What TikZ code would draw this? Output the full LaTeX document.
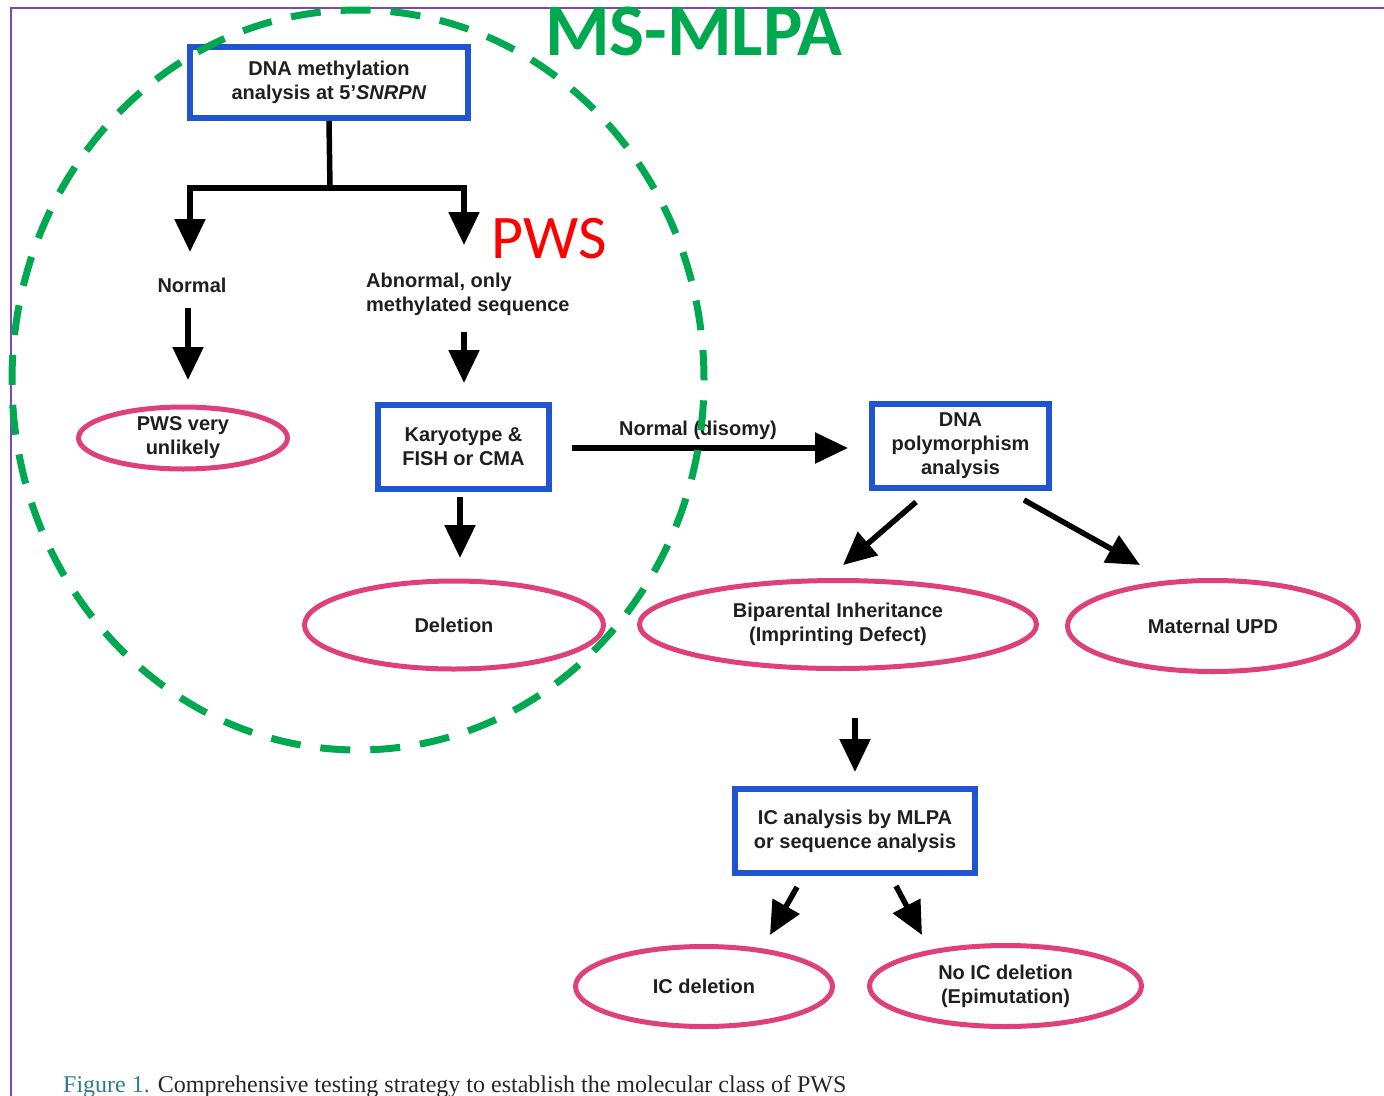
\documentclass[tikz,border=0pt]{standalone}
\usepackage{fontspec}
\setmainfont{Liberation Sans}
\newfontfamily\calibrifont{Carlito}
\newfontfamily\captionserif{Liberation Serif}
\usetikzlibrary{arrows.meta,shapes.geometric}
\definecolor{boxblue}{HTML}{1F55D0}
\definecolor{ovalpink}{HTML}{E0407A}
\definecolor{msgreen}{HTML}{00A94F}
\definecolor{framepurple}{HTML}{7E45B8}
\definecolor{capteal}{HTML}{2C7C8C}
\begin{document}
\begin{tikzpicture}[x=1pt,y=-1pt,
  txt/.style={font=\fontsize{20}{24}\selectfont\bfseries, align=center, text=black!88},
  sqbox/.style={draw=boxblue, line width=6pt, rectangle, inner sep=0pt, txt},
  oval/.style={draw=ovalpink, line width=5pt, ellipse, inner sep=0pt, txt},
  arr/.style={line width=5.5pt, line join=miter, -{Triangle[length=33pt,width=30pt]}},
  plainline/.style={line width=5.5pt},
]
\useasboundingbox (0,0) rectangle (1384,1095);
\clip (0,0) rectangle (1384,1095);

% frame
\draw[framepurple, line width=2pt] (11,1110) -- (11,8) -- (1400,8);

% boxes
\node[sqbox, minimum width=278pt, minimum height=71pt] (meth) at (329,82.5)
  {DNA methylation\\analysis at 5’\textit{SNRPN}};
\node[sqbox, minimum width=171pt, minimum height=84pt] (kary) at (463.5,447)
  {Karyotype \&\\FISH or CMA};
\node[sqbox, minimum width=177pt, minimum height=84pt] (poly) at (960.5,446)
  {DNA\\polymorphism\\analysis};
\node[sqbox, minimum width=240pt, minimum height=84pt] (ic) at (855,831)
  {IC analysis by MLPA\\or sequence analysis};

% ovals
\node[oval, minimum width=209pt, minimum height=62pt] (unlikely) at (183,438) {PWS very\\unlikely};
\node[oval, minimum width=299pt, minimum height=88pt] (del) at (454,625) {Deletion};
\node[oval, minimum width=397pt, minimum height=88pt] (bip) at (838,624.5)
  {Biparental Inheritance\\(Imprinting Defect)};
\node[oval, minimum width=291pt, minimum height=91pt] (upd) at (1213,626) {Maternal UPD};
\node[oval, minimum width=257pt, minimum height=80pt] (icdel) at (704,986.5) {IC deletion};
\node[oval, minimum width=272pt, minimum height=81pt] (epi) at (1005.5,986)
  {No IC deletion\\(Epimutation)};

% labels
\node[txt, inner sep=0pt] (normal) at (192,285) {Normal};
\node[txt, inner sep=0pt, align=left, anchor=west] (abn) at (366,294)
  {Abnormal, only\\methylated sequence};
\node[txt, inner sep=0pt] (disomy) at (698,430) {Normal (disomy)};

% connector coordinates
\coordinate (split) at (330,188);
\coordinate (tipL) at (190,252);
\coordinate (tipR) at (464,245);
\coordinate (n1s) at (188,308);
\coordinate (n1e) at (188,380);
\coordinate (a1s) at (464,332);
\coordinate (a1e) at (464,383);
\coordinate (k1s) at (460,497);
\coordinate (k1e) at (460,558);
\coordinate (h1s) at (572,448);
\coordinate (h1e) at (848,448);
\coordinate (p1s) at (916,502);
\coordinate (p1e) at (843,565);
\coordinate (p2s) at (1024,500);
\coordinate (p2e) at (1140,565);
\coordinate (b1s) at (855,718);
\coordinate (b1e) at (855,772);
\coordinate (i1s) at (797,887);
\coordinate (i1e) at (770,935);
\coordinate (i2s) at (896,886);
\coordinate (i2e) at (922,935);

% connectors
\draw[plainline] (meth.south) -- (split);
\draw[arr] (split) -| (tipL);
\draw[arr] (split) -| (tipR);
\draw[arr] (n1s) -- (n1e);
\draw[arr] (a1s) -- (a1e);
\draw[arr] (k1s) -- (k1e);
\draw[arr] (h1s) -- (h1e);
\draw[arr] (p1s) -- (p1e);
\draw[arr] (p2s) -- (p2e);
\draw[arr] (b1s) -- (b1e);
\draw[arr] (i1s) -- (i1e);
\draw[arr] (i2s) -- (i2e);

% annotations
\node[anchor=base west, inner sep=0pt, text=red, font=\calibrifont\fontsize{62}{62}\selectfont] (pws) at (491,258) {PWS};
\node[anchor=base west, inner sep=0pt, text=msgreen, font=\calibrifont\bfseries\fontsize{74}{74}\selectfont] (msmlpa) at (545,55) {MS-MLPA};

% dashed circle
\draw[msgreen, line width=7pt, dash pattern=on 30pt off 20pt] (358,380) ellipse [x radius=346pt, y radius=370pt];

% caption (at the lower edge, as in the reference)
\node[anchor=base west, inner sep=0pt, font=\captionserif\fontsize{24}{24}\selectfont, text=black!85] (cap) at (63,1092)
  {\textcolor{capteal}{Figure 1.} Comprehensive testing strategy to establish the molecular class of PWS};
\end{tikzpicture}
\end{document}
